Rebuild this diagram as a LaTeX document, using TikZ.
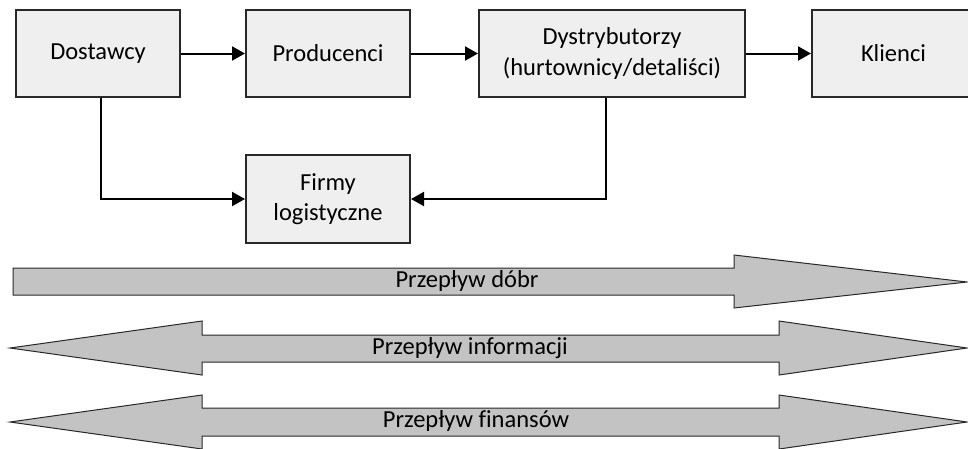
\documentclass[tikz,border=0pt]{standalone}
\usepackage{fontspec}
\setmainfont{Carlito}[Ligatures=NoCommon]
\usetikzlibrary{arrows.meta}
\definecolor{boxfill}{RGB}{239,239,239}
\definecolor{bandfill}{RGB}{195,195,195}
\definecolor{edge}{RGB}{40,40,40}
\begin{document}
\begin{tikzpicture}[x=1pt,y=-1pt,
  every node/.style={font=\fontsize{24.5}{30.5}\selectfont},
  box/.style={draw=edge, line width=2pt, fill=boxfill, minimum height=87pt, inner sep=0pt, align=center},
  conn/.style={line width=2pt, -{Triangle[length=13pt,width=14pt]}},
  band/.style={draw=edge, line width=1pt, fill=bandfill, line join=miter}
]
\useasboundingbox (0,0) rectangle (968,448);
\clip (0,0) rectangle (968,448);

\node[box, minimum width=164pt] (dost) at (98,53.5) {Dostawcy};
\node[box, minimum width=164pt] (prod) at (328,53.5) {Producenci};
\node[box, minimum width=266pt] (dys) at (612,53.5) {Dystrybutorzy\\(hurtownicy/detaliści)};
\node[box, minimum width=163pt] (kl) at (893.5,53.5) {Klienci};
\node[box, minimum width=164pt, minimum height=88pt] (firmy) at (328,199) {Firmy\\logistyczne};

\draw[conn] (dost) -- (prod);
\draw[conn] (prod) -- (dys);
\draw[conn] (dys) -- (kl);
\draw[conn] ([xshift=3pt]dost.south) |- (firmy.west);
\draw[conn] ([xshift=-6pt]dys.south) |- (firmy.east);

% flow of goods
\draw[band] (13,268) -- (734,268) -- (734,255) -- (967,282) -- (734,308) -- (734,295) -- (13,295) -- cycle;
\node (dobr) at (467,281) {Przepływ dóbr};

% flow of information
\draw[band] (10,348) -- (202,321) -- (202,335) -- (779,335) -- (779,321) -- (967,348) -- (779,375) -- (779,362) -- (202,362) -- (202,375) -- cycle;
\node (info) at (470,348) {Przepływ informacji};

% flow of finances
\draw[band] (10,422) -- (202,395) -- (202,408) -- (779,408) -- (779,395) -- (967,422) -- (779,449) -- (779,436) -- (202,436) -- (202,449) -- cycle;
\node (fin) at (476,421) {Przepływ finansów};
\end{tikzpicture}
\end{document}
